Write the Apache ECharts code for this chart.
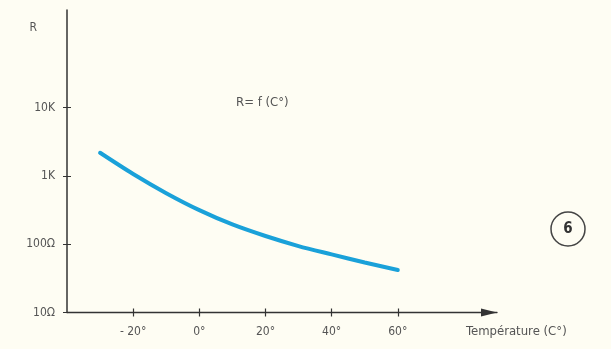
<!DOCTYPE html>
<html>
<head>
<meta charset="utf-8">
<script src="https://cdn.jsdelivr.net/npm/echarts@6/dist/echarts.min.js"></script>
<style>
  html, body { margin: 0; padding: 0; background: #fefdf3; }
  #main { width: 611px; height: 349px; }
</style>
</head>
<body>
<div id="main"></div>
<script>
// temperature (°C) and resistance (ohm)
var temps = [-30, -20, -10, 0, 10, 20, 30, 40, 50, 60]
var resist = [2190, 1070, 560, 316, 195, 132, 94, 71, 54, 42]
var xTicks = [-20, 0, 20, 40, 60]
var yTicks = [10, 100, 1000, 10000]
var yNames = { 10: '10Ω', 100: '100Ω', 1000: '1K', 10000: '10K' }

var font = "'DejaVu Sans Condensed', 'Liberation Sans Narrow', sans-serif"
var ink = '#333'
var textCol = '#555'

var chart = echarts.init(document.getElementById('main'))

var points = temps.map(function (t, i) { return [t, resist[i]] })

// shared axis settings; the second copy only draws the inner half of the ticks
function xAxisOf(inner) {
  return {
    type: 'value',
    position: 'bottom',
    min: -40,
    max: 90,
    interval: 20,
    axisLine: inner ? { show: false } : {
      lineStyle: { color: ink, width: 1.3 },
      symbol: ['none', 'triangle'],
      symbolSize: [8, 16],
      symbolOffset: [0, -8]
    },
    axisTick: {
      customValues: xTicks,
      inside: inner,
      length: 4,
      lineStyle: { color: ink, width: 1.2 }
    },
    axisLabel: {
      show: !inner,
      customValues: xTicks,
      margin: 13,
      fontFamily: font,
      fontSize: 12,
      color: textCol,
      formatter: function (v) { return (v < 0 ? '- ' + (-v) : v) + '°' }
    },
    splitLine: { show: false }
  }
}

function yAxisOf(inner) {
  return {
    type: 'log',
    min: 10,
    max: 270000,
    position: 'left',
    name: inner ? '' : 'R',
    nameLocation: 'end',
    nameGap: -24,
    nameTextStyle: { fontFamily: font, fontSize: 12, color: textCol, align: 'right', padding: [0, 30, 0, 0] },
    axisLine: inner ? { show: false, onZero: false } : { onZero: false, lineStyle: { color: ink, width: 1.5 } },
    axisTick: {
      customValues: yTicks,
      inside: inner,
      length: 4,
      lineStyle: { color: ink, width: 1 }
    },
    axisLabel: {
      show: !inner,
      customValues: yTicks,
      margin: 12,
      fontFamily: font,
      fontSize: 12,
      color: textCol,
      formatter: function (v) { return yNames[v] || '' }
    },
    splitLine: { show: false }
  }
}

chart.setOption({
  backgroundColor: '#fefdf3',
  animation: false,
  title: [{
    text: 'R= f (C°)',
    left: 236,
    top: 96,
    padding: 0,
    textStyle: { fontFamily: font, fontSize: 13, fontWeight: 'normal', color: textCol }
  }, {
    text: 'Température (C°)',
    left: 466,
    top: 325,
    padding: 0,
    textStyle: { fontFamily: font, fontSize: 13, fontWeight: 'normal', color: textCol }
  }],
  grid: { left: 67, right: 114, top: 10, bottom: 36.5 },
  xAxis: [xAxisOf(false), xAxisOf(true)],
  yAxis: [yAxisOf(false), yAxisOf(true)],
  graphic: [{
    type: 'circle',
    shape: { cx: 568, cy: 229, r: 17 },
    style: { fill: 'none', stroke: '#444', lineWidth: 1.5 }
  }, {
    type: 'text',
    x: 568,
    y: 229,
    style: {
      text: '6', fontFamily: font, fontSize: 15, fontWeight: 'bold', fill: '#333',
      align: 'center', verticalAlign: 'middle'
    }
  }],
  series: [{
    type: 'line',
    data: points,
    smooth: 0.3,
    showSymbol: false,
    lineStyle: { color: '#1aa1d9', width: 4, cap: 'round' }
  }]
})
</script>
</body>
</html>
